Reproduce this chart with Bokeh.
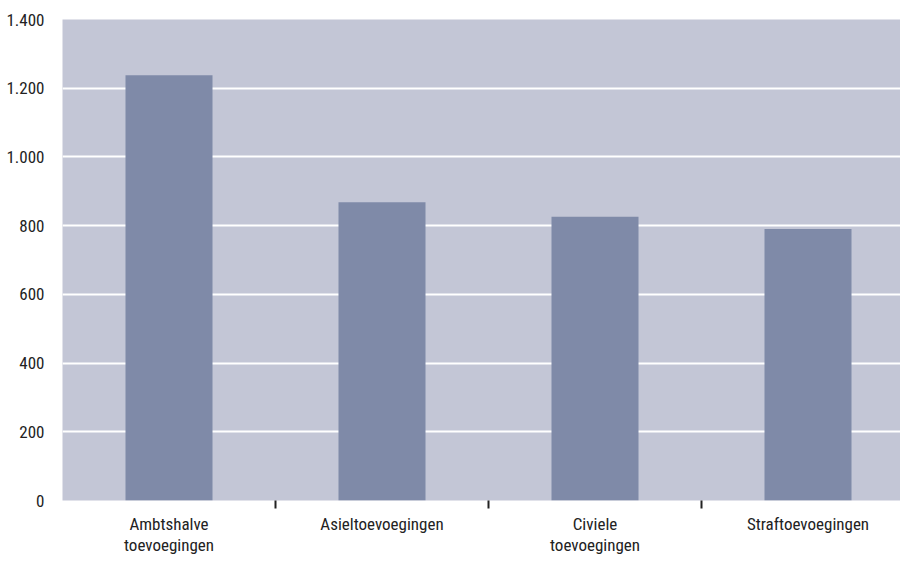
from bokeh.plotting import figure
from bokeh.models import FixedTicker, ColumnDataSource
from bokeh.embed import file_html
from bokeh.resources import INLINE

categories = ["Ambtshalve\ntoevoegingen", "Asieltoevoegingen", "Civiele\ntoevoegingen", "Straftoevoegingen"]
values = [1238, 868, 826, 790]
y_ticks = [0, 200, 400, 600, 800, 1000, 1200, 1400]
y_tick_labels = ["0", "200", "400", "600", "800", "1.000", "1.200", "1.400"]

FONT = "'Roboto Condensed', 'Liberation Sans Narrow', 'Arial Narrow', Roboto, sans-serif"
BG = "#C3C6D6"
BAR = "#7F8AA8"

xpos = [i + 0.5 for i in range(len(categories))]
src = ColumnDataSource(dict(x=xpos, top=values))

LEFT, TOP = 62, 19
FW, FH = 838, 481

p = figure(frame_width=FW, frame_height=FH, output_backend="svg", toolbar_location=None,
           x_range=(0, FW / 213), y_range=(0, 1400),
           min_border_left=LEFT, min_border_right=0, min_border_top=TOP,
           min_border_bottom=0)
p.background_fill_color = BG
p.border_fill_color = "white"
p.outline_line_color = None

p.vbar(x="x", top="top", width=87 / 213, bottom=0, source=src,
       fill_color=BAR, line_color=None)

# y axis
p.yaxis.ticker = FixedTicker(ticks=y_ticks)
p.yaxis.major_label_overrides = {t: l for t, l in zip(y_ticks, y_tick_labels)}
p.yaxis.axis_line_color = None
p.yaxis.major_tick_line_color = None
p.yaxis.minor_tick_line_color = None
p.yaxis.major_label_text_font = FONT
p.yaxis.major_label_text_font_size = "17px"
p.yaxis.major_label_text_color = "#222222"
p.yaxis.major_label_standoff = 12

# x axis
p.xaxis.ticker = FixedTicker(ticks=xpos, minor_ticks=[1, 2, 3])
p.xaxis.major_label_overrides = {x: c for x, c in zip(xpos, categories)}
p.xaxis.axis_line_color = None
p.xaxis.major_tick_line_color = None
p.xaxis.major_tick_out = 8
p.xaxis.major_tick_in = 0
p.xaxis.minor_tick_line_color = "#222222"
p.xaxis.minor_tick_line_width = 2
p.xaxis.minor_tick_in = 0
p.xaxis.minor_tick_out = 8
p.xaxis.major_label_text_font = FONT
p.xaxis.major_label_text_font_size = "17px"
p.xaxis.major_label_text_line_height = 1.05
p.xaxis.major_label_text_color = "#222222"
p.xaxis.major_label_standoff = 5

# grid
p.xgrid.grid_line_color = None
p.ygrid.ticker = FixedTicker(ticks=[200, 400, 600, 800, 1000, 1200])
p.ygrid.grid_line_color = "white"
p.ygrid.grid_line_width = 2
p.ygrid.level = "underlay"

open("out.html", "w").write(file_html(p, INLINE))
